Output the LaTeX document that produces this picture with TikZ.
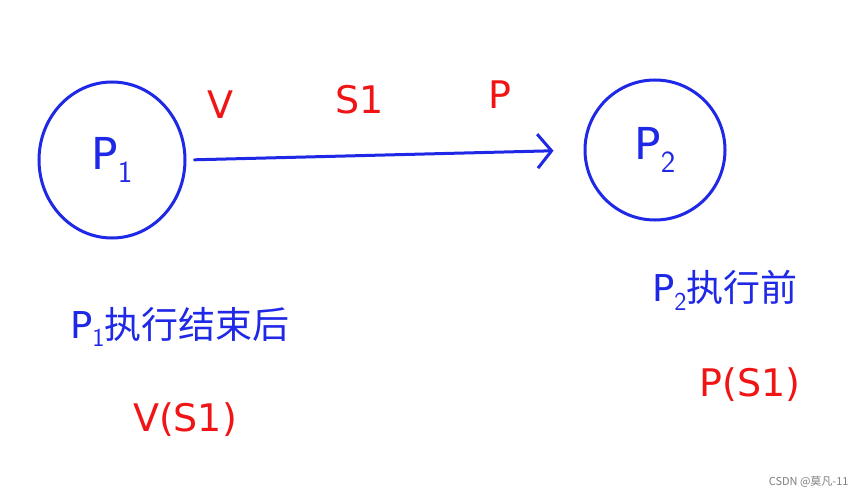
\documentclass[tikz,border=0pt]{standalone}
\usetikzlibrary{shapes.geometric,arrows.meta}
\usepackage{fontspec}
\setmainfont{DejaVu Sans}
\newfontfamily\cjk{Noto Sans CJK SC}
\definecolor{hb}{RGB}{30,40,230}
\definecolor{hr}{RGB}{240,20,20}
\begin{document}
\begin{tikzpicture}[x=1pt,y=-1pt,
  ring/.style={draw=hb,line width=3pt},
  bl/.style={text=hb,font=\fontsize{37}{40}\selectfont},
  rd/.style={text=hr,font=\fontsize{38}{42}\selectfont}]
\useasboundingbox[fill=white] (0,0) rectangle (865,500);
\node[ring,ellipse,minimum width=146pt,minimum height=156pt,inner sep=0] (p1) at (112,160) {};
\node[bl,font=\fontsize{44}{48}\selectfont] at (p1) {P$_{\mathsf{1}}$};
\node[ring,ellipse,minimum width=140pt,minimum height=140pt,inner sep=0] (p2) at (655,150) {};
\node[bl,font=\fontsize{44}{48}\selectfont] at (p2) {P$_{\mathsf{2}}$};
\draw[draw=hb,line width=3pt,line cap=round,shorten <=8pt,shorten >=30pt,-{Straight Barb[length=14pt,width=34pt]}] (p1.east) -- (p2.west);
\node[rd] (v) at (220,105) {V};
\node[rd] (s) at (360,100) {S1};
\node[rd] (p) at (500,95) {P};
\node[bl] (t1) at (180,327) {P$_{\mathsf{1}}$\cjk 执行结束后};
\node[rd] (v1) at (185,420) {V(S1)};
\node[bl] (t2) at (725,290) {P$_{\mathsf{2}}$\cjk 执行前};
\node[rd] (p3) at (750,385) {P(S1)};
\node[text=gray,font=\cjk\fontsize{11}{13}\selectfont,anchor=east] (w) at (852,482) {CSDN @莫凡-11};
\end{tikzpicture}
\end{document}
